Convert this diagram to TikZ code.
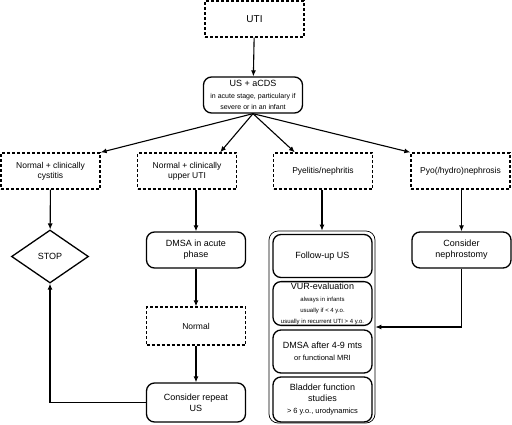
\documentclass[tikz,border=0pt]{standalone}
\usepackage{fontspec}
\setmainfont{Liberation Sans}
\usetikzlibrary{shapes.geometric,calc,arrows.meta}

\tikzset{
	dashbox/.style={draw, dash pattern=on 3pt off 2pt, line width=1.3pt, minimum width=99pt, minimum height=36pt, align=center, inner sep=1pt, font=\fontsize{8.5}{10}\selectfont},
	roundbox/.style={draw, rounded corners=8pt, line width=1.3pt, minimum width=99pt, minimum height=36pt, align=center, inner sep=1pt, font=\fontsize{9}{11}\selectfont},
	groupbox/.style={draw, rounded corners=9pt, line width=0.7pt, minimum width=106pt, minimum height=192pt},
	decision/.style={draw, diamond, line width=1.3pt, minimum width=77pt, minimum height=53pt, inner sep=0pt, font=\fontsize{9}{11}\selectfont},
	arr/.style={-{Latex[length=6pt,width=5pt]}, line width=1.1pt}
}

\begin{document}
\begin{tikzpicture}[x=1pt,y=-1pt]
		
		%%Location
		\useasboundingbox (0,0) rectangle (512,424);
		
		%%Top
		\node[dashbox, font=\fontsize{10}{12}\selectfont] (uti) at (254.5,19) {UTI};
		\node[roundbox] (us) at (253,95) {US + aCDS\\[1pt]{\fontsize{7}{7}\selectfont in acute stage, particulary if}\\{\fontsize{7}{7}\selectfont severe or in an infant}};
		
		%%Findings
		\node[dashbox] (cyst) at (50.5,171) {Normal + clinically\\cystitis};
		\node[dashbox] (upper) at (187,171) {Normal + clinically\\upper UTI};
		\node[dashbox] (pyel) at (323,171) {Pyelitis/nephritis};
		\node[dashbox] (pyo) at (460.5,171) {Pyo(/hydro)nephrosis};
		
		%%Left branch
		\node[decision] (stop) at (50,256.5) {STOP};
		\node[roundbox] (dmsa) at (196,250) {DMSA in acute\\phase};
		\node[dashbox, minimum height=38pt] (normal) at (196,326) {Normal};
		\node[roundbox, minimum height=39pt] (repeat) at (196,402.5) {Consider repeat\\US};
		
		%%Follow-up group
		\node[groupbox] (group) at (322,327) {};
		\node[roundbox, minimum height=43pt] (fus) at (322.5,256) {Follow-up US};
		\node[roundbox, minimum height=43pt] (vur) at (322.5,303.5) {VUR-evaluation\\[1pt]{\fontsize{6}{6}\selectfont always in infants}\\{\fontsize{6}{6}\selectfont usually if < 4 y.o.}\\{\fontsize{6}{6}\selectfont usually in recurrent UTI > 4 y.o.}};
		\node[roundbox, minimum height=43pt] (dmsb) at (322.5,351.5) {DMSA after 4-9 mts\\[1pt]{\fontsize{7.5}{8}\selectfont or functional MRI}};
		\node[roundbox, minimum height=45pt] (blad) at (322.5,399.5) {Bladder function\\studies\\[1pt]{\fontsize{7.5}{8}\selectfont > 6 y.o., urodynamics}};
		
		%%Right branch
		\node[roundbox] (neph) at (461.5,250) {Consider\\nephrostomy};
		
		%%Arrows
		\draw[arr] (uti) -- (us);
		\draw[arr] (us.south) -- (cyst.north east);
		\draw[arr] (us.south) -- ($(upper.north east)+(-17,0)$);
		\draw[arr] (us.south) -- ($(pyel.north west)+(22,0)$);
		\draw[arr] (us.south) -- (pyo.north west);
		
		\draw[arr] (cyst) -- (stop);
		\draw[arr] (upper.south -| dmsa.north) -- (dmsa);
		\draw[arr] (dmsa) -- (normal);
		\draw[arr] (normal) -- (repeat);
		\draw[arr] (repeat.west) -| (stop.south);
		
		\draw[arr] (pyel.south -| group.north) -- (group.north);
		\draw[arr] (pyo.south -| neph.north) -- (neph);
		\draw[arr] (neph.south) |- (group.east);
		
		\end{tikzpicture}
\end{document}
